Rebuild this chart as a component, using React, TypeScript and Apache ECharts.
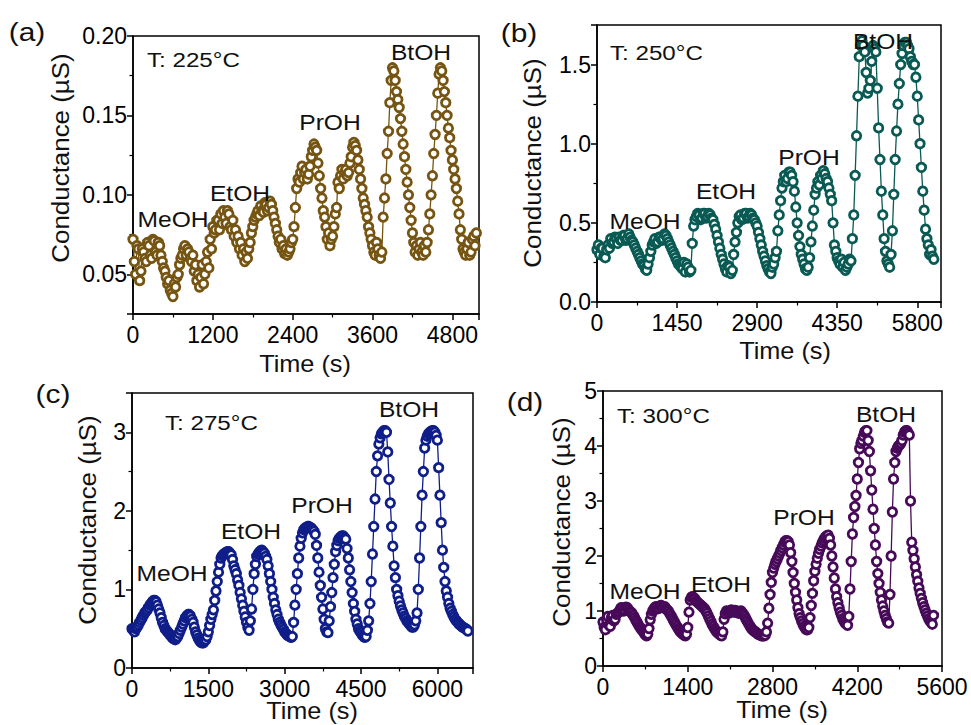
import React, { useEffect, useRef } from "react";
import * as echarts from "echarts";

// ---------- data ----------
const timeStepA = 20; // s between samples, panel (a)
const conductanceA = [
  0.072, 0.058, 0.050, 0.068, 0.066, 0.046, 0.052, 0.066, 0.064, 0.060,
  0.058, 0.070, 0.068, 0.062, 0.060, 0.072, 0.071, 0.064, 0.062, 0.070,
  0.068, 0.062, 0.058, 0.054, 0.052, 0.048, 0.044, 0.046, 0.040, 0.038,
  0.036, 0.044, 0.042, 0.048, 0.050, 0.056, 0.060, 0.062, 0.066, 0.068,
  0.062, 0.066, 0.064, 0.060, 0.058, 0.062, 0.052, 0.056, 0.046, 0.050,
  0.042, 0.048, 0.056, 0.044, 0.050, 0.058, 0.064, 0.054, 0.072, 0.066,
  0.080, 0.076, 0.078, 0.084, 0.084, 0.078, 0.088, 0.082, 0.090, 0.086,
  0.082, 0.090, 0.088, 0.080, 0.078, 0.084, 0.074, 0.078, 0.070, 0.074,
  0.066, 0.070, 0.062, 0.066, 0.058, 0.064, 0.060, 0.066, 0.070, 0.076,
  0.080, 0.084, 0.086, 0.088, 0.090, 0.087, 0.093, 0.090, 0.089, 0.095,
  0.094, 0.090, 0.092, 0.096, 0.094, 0.090, 0.086, 0.082, 0.078, 0.074,
  0.070, 0.072, 0.066, 0.068, 0.063, 0.066, 0.062, 0.064, 0.066, 0.070,
  0.072, 0.080, 0.092, 0.104, 0.110, 0.108, 0.114, 0.118, 0.110, 0.114,
  0.116, 0.110, 0.113, 0.118, 0.124, 0.128, 0.132, 0.130, 0.128, 0.120,
  0.112, 0.104, 0.098, 0.090, 0.086, 0.080, 0.072, 0.076, 0.068, 0.072,
  0.074, 0.080, 0.088, 0.092, 0.108, 0.104, 0.112, 0.116, 0.110, 0.114,
  0.116, 0.112, 0.114, 0.120, 0.124, 0.130, 0.133, 0.131, 0.128, 0.122,
  0.116, 0.110, 0.104, 0.098, 0.094, 0.090, 0.086, 0.080, 0.076, 0.072,
  0.068, 0.064, 0.062, 0.070, 0.066, 0.062, 0.060, 0.064, 0.086, 0.098,
  0.110, 0.126, 0.140, 0.158, 0.172, 0.180, 0.178, 0.172, 0.165, 0.160,
  0.155, 0.148, 0.140, 0.132, 0.124, 0.116, 0.108, 0.100, 0.092, 0.084,
  0.076, 0.070, 0.064, 0.068, 0.062, 0.066, 0.070, 0.064, 0.062, 0.068,
  0.064, 0.070, 0.078, 0.088, 0.100, 0.112, 0.126, 0.138, 0.150, 0.164,
  0.176, 0.180, 0.178, 0.172, 0.165, 0.158, 0.150, 0.142, 0.136, 0.128,
  0.122, 0.116, 0.110, 0.104, 0.096, 0.088, 0.078, 0.072, 0.066, 0.064,
  0.062, 0.066, 0.070, 0.062, 0.064, 0.072, 0.074, 0.068, 0.076,
];

const timeStepB = 25;
const conductanceB = [
  0.33, 0.36, 0.30, 0.34, 0.34, 0.29, 0.28, 0.33, 0.36, 0.34,
  0.40, 0.37, 0.38, 0.41, 0.40, 0.37, 0.41, 0.39, 0.39, 0.42,
  0.42, 0.39, 0.40, 0.43, 0.41, 0.39, 0.38, 0.36, 0.34, 0.32,
  0.30, 0.28, 0.26, 0.24, 0.23, 0.21, 0.20, 0.24, 0.28, 0.32,
  0.36, 0.38, 0.40, 0.37, 0.38, 0.41, 0.41, 0.39, 0.40, 0.43,
  0.42, 0.40, 0.38, 0.36, 0.34, 0.32, 0.30, 0.28, 0.26, 0.24,
  0.23, 0.22, 0.21, 0.25, 0.19, 0.24, 0.22, 0.19, 0.20, 0.37,
  0.48, 0.52, 0.54, 0.56, 0.55, 0.52, 0.53, 0.56, 0.56, 0.53,
  0.54, 0.56, 0.55, 0.53, 0.52, 0.49, 0.46, 0.42, 0.38, 0.34,
  0.30, 0.27, 0.24, 0.21, 0.19, 0.23, 0.22, 0.18, 0.20, 0.30,
  0.38, 0.44, 0.50, 0.54, 0.55, 0.52, 0.53, 0.56, 0.56, 0.53,
  0.54, 0.56, 0.55, 0.53, 0.52, 0.50, 0.48, 0.44, 0.40, 0.36,
  0.32, 0.29, 0.26, 0.23, 0.21, 0.19, 0.18, 0.22, 0.24, 0.28,
  0.32, 0.45, 0.55, 0.64, 0.72, 0.76, 0.80, 0.76, 0.78, 0.82,
  0.82, 0.80, 0.76, 0.70, 0.60, 0.50, 0.42, 0.35, 0.30, 0.27,
  0.24, 0.21, 0.20, 0.22, 0.28, 0.38, 0.48, 0.58, 0.68, 0.72,
  0.76, 0.74, 0.80, 0.78, 0.83, 0.81, 0.78, 0.76, 0.72, 0.68,
  0.64, 0.50, 0.36, 0.32, 0.28, 0.26, 0.24, 0.27, 0.22, 0.25,
  0.20, 0.22, 0.24, 0.27, 0.26, 0.40, 0.55, 0.80, 1.05, 1.30,
  1.55, 1.62, 1.65, 1.62, 1.58, 1.45, 1.32, 1.35, 1.40, 1.52,
  1.62, 1.60, 1.58, 1.35, 1.10, 0.90, 0.70, 0.55, 0.40, 0.32,
  0.26, 0.24, 0.22, 0.30, 0.45, 0.68, 0.90, 1.08, 1.25, 1.38,
  1.50, 1.57, 1.62, 1.64, 1.64, 1.62, 1.60, 1.55, 1.52, 1.50,
  1.50, 1.42, 1.30, 1.15, 1.00, 0.85, 0.70, 0.58, 0.46, 0.40,
  0.36, 0.30, 0.33, 0.29, 0.27,
];

const timeStepC = 25;
const conductanceC = [
  0.50, 0.48, 0.46, 0.50, 0.52, 0.55, 0.58, 0.61, 0.64, 0.67,
  0.70, 0.72, 0.74, 0.77, 0.80, 0.82, 0.84, 0.86, 0.86, 0.84,
  0.80, 0.75, 0.70, 0.64, 0.58, 0.54, 0.50, 0.48, 0.46, 0.44,
  0.42, 0.40, 0.38, 0.37, 0.36, 0.38, 0.40, 0.44, 0.48, 0.52,
  0.56, 0.60, 0.64, 0.66, 0.68, 0.68, 0.66, 0.62, 0.58, 0.52,
  0.46, 0.42, 0.38, 0.35, 0.33, 0.32, 0.32, 0.34, 0.36, 0.40,
  0.46, 0.54, 0.62, 0.68, 0.74, 0.86, 0.98, 1.10, 1.22, 1.32,
  1.40, 1.43, 1.45, 1.46, 1.47, 1.48, 1.48, 1.46, 1.44, 1.38,
  1.30, 1.25, 1.20, 1.12, 1.05, 0.96, 0.88, 0.80, 0.72, 0.65,
  0.58, 0.52, 0.48, 0.60, 0.75, 1.00, 1.20, 1.32, 1.42, 1.45,
  1.47, 1.49, 1.50, 1.48, 1.46, 1.42, 1.38, 1.30, 1.20, 1.10,
  1.00, 0.90, 0.82, 0.74, 0.68, 0.62, 0.58, 0.55, 0.52, 0.49,
  0.46, 0.44, 0.42, 0.41, 0.40, 0.39, 0.40, 0.58, 0.80, 1.00,
  1.20, 1.40, 1.55, 1.65, 1.72, 1.76, 1.78, 1.79, 1.80, 1.80,
  1.79, 1.78, 1.76, 1.74, 1.70, 1.56, 1.40, 1.22, 1.05, 0.90,
  0.75, 0.62, 0.50, 0.46, 0.45, 0.60, 0.78, 0.96, 1.15, 1.32,
  1.48, 1.56, 1.62, 1.65, 1.67, 1.68, 1.68, 1.66, 1.64, 1.52,
  1.40, 1.25, 1.10, 0.96, 0.82, 0.72, 0.62, 0.56, 0.50, 0.47,
  0.45, 0.42, 0.40, 0.39, 0.40, 0.48, 0.60, 0.82, 1.10, 1.45,
  1.80, 2.15, 2.50, 2.70, 2.85, 2.93, 2.98, 3.00, 3.02, 3.02,
  3.00, 2.75, 2.40, 2.10, 1.80, 1.55, 1.30, 1.15, 1.00, 0.92,
  0.85, 0.79, 0.74, 0.70, 0.66, 0.63, 0.60, 0.58, 0.56, 0.54,
  0.52, 0.52, 0.55, 0.60, 0.70, 1.00, 1.40, 1.80, 2.20, 2.50,
  2.80, 2.90, 2.95, 2.98, 3.00, 3.01, 3.02, 3.02, 3.00, 2.96,
  2.90, 2.55, 2.20, 1.85, 1.50, 1.28, 1.10, 0.98, 0.90, 0.82,
  0.76, 0.72, 0.68, 0.65, 0.62, 0.60, 0.58, 0.56, 0.55, 0.53,
  0.52, 0.51, 0.50, 0.49, 0.47,
];

const timeStepD = 20;
const conductanceD = [
  0.80, 0.70, 0.66, 0.84, 0.90, 0.74, 0.72, 0.88, 0.92, 0.82,
  0.85, 0.94, 0.96, 0.98, 1.02, 1.06, 1.05, 1.00, 1.02, 1.07,
  1.06, 1.02, 1.00, 0.98, 0.96, 0.92, 0.88, 0.84, 0.80, 0.76,
  0.72, 0.69, 0.66, 0.63, 0.60, 0.57, 0.55, 0.58, 0.68, 0.84,
  0.94, 1.00, 1.04, 1.07, 1.08, 1.04, 1.05, 1.09, 1.10, 1.07,
  1.06, 1.08, 1.04, 1.02, 1.00, 0.96, 0.92, 0.88, 0.84, 0.80,
  0.76, 0.72, 0.68, 0.65, 0.62, 0.60, 0.58, 0.56, 0.55, 0.58,
  0.70, 0.98, 1.20, 1.25, 1.26, 1.24, 1.22, 1.18, 1.16, 1.14,
  1.12, 1.10, 1.08, 1.06, 1.04, 1.00, 0.96, 0.91, 0.86, 0.81,
  0.76, 0.72, 0.68, 0.65, 0.62, 0.60, 0.58, 0.56, 0.55, 0.62,
  0.85, 0.95, 1.00, 0.98, 0.96, 1.00, 1.02, 0.99, 0.98, 1.01,
  1.00, 0.97, 0.96, 0.99, 1.00, 0.97, 0.94, 0.90, 0.86, 0.82,
  0.78, 0.74, 0.70, 0.67, 0.65, 0.63, 0.62, 0.60, 0.58, 0.57,
  0.56, 0.55, 0.55, 0.55, 0.56, 0.62, 0.78, 1.05, 1.30, 1.52,
  1.70, 1.78, 1.85, 1.90, 1.95, 2.00, 2.05, 2.10, 2.15, 2.20,
  2.25, 2.28, 2.28, 2.26, 2.20, 2.06, 1.90, 1.70, 1.50, 1.34,
  1.20, 1.06, 0.95, 0.88, 0.82, 0.77, 0.72, 0.69, 0.66, 0.66,
  0.70, 0.88, 1.10, 1.32, 1.55, 1.72, 1.85, 1.96, 2.05, 2.12,
  2.18, 2.24, 2.28, 2.32, 2.35, 2.37, 2.38, 2.32, 2.20, 2.00,
  1.80, 1.60, 1.40, 1.26, 1.15, 1.06, 0.98, 0.92, 0.86, 0.82,
  0.78, 0.76, 0.74, 0.90, 1.40, 1.90, 2.40, 2.70, 2.90, 3.10,
  3.40, 3.70, 3.95, 4.05, 4.10, 4.18, 4.25, 4.28, 4.28, 4.10,
  3.90, 3.55, 3.20, 2.85, 2.50, 2.20, 1.90, 1.68, 1.50, 1.34,
  1.20, 1.09, 1.00, 0.92, 0.86, 0.80, 0.78, 1.30, 2.00, 2.80,
  3.40, 3.70, 3.90, 3.96, 4.00, 4.02, 4.05, 4.10, 4.20, 4.25,
  4.28, 4.28, 4.24, 4.20, 3.00, 2.25, 2.10, 1.95, 1.80, 1.66,
  1.54, 1.42, 1.32, 1.23, 1.15, 1.08, 1.02, 0.96, 0.91, 0.86,
  0.82, 0.79, 0.76, 0.92,
];

const panelLetters = ["(a)", "(b)", "(c)", "(d)"];
const temperatureLabels = ["T: 225°C", "T: 250°C", "T: 275°C", "T: 300°C"];
const alcoholLabels = ["MeOH", "EtOH", "PrOH", "BtOH"];
const xAxisTitle = "Time (s)";
const yAxisTitle = "Conductance (µS)";

// ---------- layout / styles ----------
const FONT = "'Liberation Sans', Arial, Helvetica, sans-serif";
const colors = ["#765512", "#0a5a54", "#101e8a", "#470a58"];

const grids = [
  { left: 133, top: 36, width: 346, height: 278 },
  { left: 597, top: 25, width: 344, height: 277 },
  { left: 132, top: 393, width: 341, height: 275 },
  { left: 603, top: 391, width: 339, height: 275 },
];

const xAxisSpecs = [
  { min: 0, max: 5200, interval: 1200 },
  { min: 0, max: 6230, interval: 1450 },
  { min: 0, max: 6700, interval: 1500 },
  { min: 0, max: 5600, interval: 1400 },
];

const yAxisSpecs: any[] = [
  { min: 0.025, max: 0.2, splitNumber: 4, digits: 2, hideMin: true, hideMax: false },
  { min: 0, max: 1.75, interval: 0.5, digits: 1, hideMin: false, hideMax: true },
  { min: 0, max: 3.5, interval: 1, digits: 0, hideMin: false, hideMax: true },
  { min: 0, max: 5, interval: 1, digits: 0, hideMin: false, hideMax: false },
];

// text anchor positions
const letterPos = [[27, 32], [519, 33], [53, 394], [525, 402]];
const tempPos = [[147, 60], [610, 53], [165, 423], [617, 416]];
const alcoholPos = [
  [[173, 219], [240, 193], [330, 122], [421, 52]],
  [[645, 221], [726, 191], [809, 157], [883, 41]],
  [[172, 573], [251, 531], [322, 505], [409, 409]],
  [[645, 591], [721, 584], [804, 517], [886, 414]],
];
const xTitlePos = [[305, 364], [785, 351], [312, 711], [782, 710]];
const yTitlePos = [[60, 158], [532, 163], [87, 520], [561, 522]];

const seriesValues = [conductanceA, conductanceB, conductanceC, conductanceD];
const seriesSteps = [timeStepA, timeStepB, timeStepC, timeStepD];

function toPoints(step: number, values: number[]) {
  return values.map((v, i) => [i * step, v]);
}

function textEl(
  text: string,
  x: number,
  y: number,
  size: number,
  stretch: number,
  align = "center",
  rotation = 0
) {
  return {
    type: "text",
    x,
    y,
    z: 100,
    zlevel: 0,
    rotation,
    scaleX: stretch,
    silent: true,
    style: {
      text,
      fill: "#111",
      font: `${size}px ${FONT}`,
      fontSize: size,
      fontFamily: FONT,
      align,
      verticalAlign: "middle",
      textAlign: align,
      textVerticalAlign: "middle",
    },
  };
}

export default function App() {
  const ref = useRef<HTMLDivElement>(null);

  useEffect(() => {
    if (!ref.current) return;
    const chart = echarts.init(ref.current, undefined, { renderer: "svg" });

    const axisLine = { show: true, lineStyle: { color: "#000", width: 1.5 } };
    const axisTick = { show: true, inside: false, length: 6, lineStyle: { color: "#000", width: 1.5 } };
    const minorTick = { show: true, splitNumber: 2, length: 3.5, lineStyle: { color: "#000", width: 1.2 } };

    const xAxis = xAxisSpecs.map((s, i) => ({
      type: "value",
      gridIndex: i,
      min: s.min,
      max: s.max,
      interval: s.interval,
      axisLine,
      axisTick,
      minorTick,
      splitLine: { show: false },
      axisLabel: {
        color: "#000",
        fontSize: 23,
        fontFamily: FONT,
        margin: 9,
        showMaxLabel: s.max % s.interval === 0,
        showMinLabel: true,
        formatter: (v: number) => String(v),
      },
    }));

    const yAxis = yAxisSpecs.map((s, i) => ({
      type: "value",
      gridIndex: i,
      min: s.min,
      max: s.max,
      ...(s.interval ? { interval: s.interval } : { splitNumber: s.splitNumber }),
      axisLine,
      axisTick,
      minorTick,
      splitLine: { show: false },
      axisLabel: {
        color: "#000",
        fontSize: 23,
        fontFamily: FONT,
        margin: 6,
        showMinLabel: !s.hideMin,
        showMaxLabel: !s.hideMax,
        formatter: (v: number) => v.toFixed(s.digits),
      },
    }));

    const series = seriesValues.map((vals, i) => ({
      type: "line",
      xAxisIndex: i,
      yAxisIndex: i,
      data: toPoints(seriesSteps[i], vals),
      symbol: "circle",
      symbolSize: 8.5,
      showAllSymbol: true,
      silent: true,
      z: 2,
      lineStyle: { color: colors[i], width: 1.3 },
      itemStyle: { color: "#fff", borderColor: colors[i], borderWidth: 2.8 },
      emphasis: { disabled: true },
    }));

    const graphic: any[] = [];
    for (let i = 0; i < 4; i++) {
      graphic.push(textEl(panelLetters[i], letterPos[i][0], letterPos[i][1], 26, 1.15));
      graphic.push(textEl(temperatureLabels[i], tempPos[i][0], tempPos[i][1], 21, 1.15, "left"));
      for (let k = 0; k < 4; k++) {
        graphic.push(textEl(alcoholLabels[k], alcoholPos[i][k][0], alcoholPos[i][k][1], 22, 1.12));
      }
      graphic.push(textEl(xAxisTitle, xTitlePos[i][0], xTitlePos[i][1], 23, 1.1));
      graphic.push(textEl(yAxisTitle, yTitlePos[i][0], yTitlePos[i][1], 24, 1.08, "center", Math.PI / 2));
    }

    chart.setOption({
      animation: false,
      backgroundColor: "#fff",
      grid: grids.map((g) => ({ ...g, show: true, borderColor: "#000", borderWidth: 1.5, containLabel: false })),
      xAxis,
      yAxis,
      series,
      graphic: { elements: graphic },
    });

    return () => chart.dispose();
  }, []);

  return (
    <div
      ref={ref}
      style={{ position: "absolute", left: 0, top: 0, width: 971, height: 725 }}
    />
  );
}
